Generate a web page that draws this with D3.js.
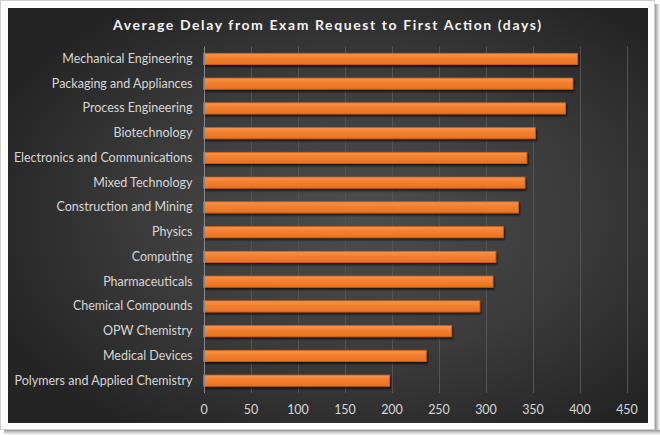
<!DOCTYPE html>
<html>
<head>
<meta charset="utf-8">
<script src="https://cdn.jsdelivr.net/npm/d3@7/dist/d3.min.js"></script>
<style>
html,body{margin:0;padding:0;background:#fff;}
svg{display:block;}
</style>
</head>
<body>
<svg id="chart" width="660" height="435"></svg>
<script>
const title = "Average Delay from Exam Request to First Action (days)";
const categories = [
  "Mechanical Engineering","Packaging and Appliances","Process Engineering","Biotechnology",
  "Electronics and Communications","Mixed Technology","Construction and Mining","Physics",
  "Computing","Pharmaceuticals","Chemical Compounds","OPW Chemistry","Medical Devices",
  "Polymers and Applied Chemistry"
];
const values = [398, 393, 385, 353, 344, 342, 335, 319, 311, 308, 294, 264, 237, 198];
const xTicks = [0, 50, 100, 150, 200, 250, 300, 350, 400, 450];

const svg = d3.select("#chart");
const defs = svg.append("defs");

const sh = defs.append("linearGradient").attr("id","shR").attr("x1","0").attr("x2","1");
sh.append("stop").attr("offset","0").attr("stop-color","#9a9a9a");
sh.append("stop").attr("offset","1").attr("stop-color","#ffffff");
const shB = defs.append("linearGradient").attr("id","shB").attr("x1","0").attr("x2","0").attr("y1","0").attr("y2","1");
shB.append("stop").attr("offset","0").attr("stop-color","#9a9a9a");
shB.append("stop").attr("offset","1").attr("stop-color","#ffffff");

const bg = defs.append("radialGradient").attr("id","bg")
  .attr("cx","0.55").attr("cy","0.5").attr("r","0.62");
bg.append("stop").attr("offset","0").attr("stop-color","#4d4d4d");
bg.append("stop").attr("offset","0.55").attr("stop-color","#3b3b3b");
bg.append("stop").attr("offset","1").attr("stop-color","#242424");

const barG = defs.append("linearGradient").attr("id","barG").attr("x1","0").attr("x2","0").attr("y1","0").attr("y2","1");
barG.append("stop").attr("offset","0").attr("stop-color","#f9924a");
barG.append("stop").attr("offset","0.45").attr("stop-color","#f37f2e");
barG.append("stop").attr("offset","1").attr("stop-color","#e8721f");

const flt = defs.append("filter").attr("id","ds").attr("x","-5%").attr("y","-50%").attr("width","110%").attr("height","220%");
flt.append("feGaussianBlur").attr("in","SourceAlpha").attr("stdDeviation","1.2").attr("result","b");
flt.append("feOffset").attr("in","b").attr("dx","1").attr("dy","1.5").attr("result","o");
flt.append("feComponentTransfer").attr("in","o").attr("result","o2")
  .append("feFuncA").attr("type","linear").attr("slope","0.7");
const mg = flt.append("feMerge");
mg.append("feMergeNode").attr("in","o2");
mg.append("feMergeNode").attr("in","SourceGraphic");

svg.append("rect").attr("x",655).attr("y",4).attr("width",5).attr("height",431).attr("fill","url(#shR)");
svg.append("rect").attr("x",4).attr("y",430).attr("width",656).attr("height",5).attr("fill","url(#shB)");
svg.append("rect").attr("x",0.5).attr("y",0.5).attr("width",654).attr("height",429)
  .attr("fill","#fff").attr("stroke","#cfcfcf");
svg.append("rect").attr("x",8).attr("y",8).attr("width",640).attr("height",415).attr("fill","url(#bg)");

const margin = {left:203.5, right:626.5, top:46.5, bottom:393};
const x = d3.scaleLinear().domain([0,450]).range([margin.left, margin.right]);
const y = d3.scaleBand().domain(categories).range([margin.top, margin.bottom]).paddingInner(0.55).paddingOuter(0.275);

svg.append("g").selectAll("line").data(xTicks.slice(1)).join("line")
  .attr("x1",d=>Math.round(x(d))+0.5).attr("x2",d=>Math.round(x(d))+0.5)
  .attr("y1",margin.top).attr("y2",margin.bottom)
  .attr("stroke","#545454").attr("stroke-width",1);

svg.append("g").selectAll("rect").data(values).join("rect")
  .attr("x",x(0)).attr("y",(d,i)=>y(categories[i]))
  .attr("width",d=>x(d)-x(0)).attr("height",y.bandwidth())
  .attr("fill","url(#barG)").attr("stroke","#c9631c").attr("stroke-width",0.8)
  .attr("filter","url(#ds)");

svg.append("line").attr("x1",Math.round(x(0))+0.5).attr("x2",Math.round(x(0))+0.5)
  .attr("y1",margin.top).attr("y2",margin.bottom).attr("stroke","#8a8a8a");

const font = "Lato, 'Open Sans', sans-serif";
const yAxis = d3.axisLeft(y).tickSize(0).tickPadding(11);
const ya = svg.append("g").attr("transform",`translate(${x(0)},0)`).call(yAxis);
ya.select(".domain").remove();
ya.selectAll("text").attr("fill","#d6d6d6").style("font-family",font).style("font-size","12.5px");

const xAxis = d3.axisBottom(x).tickValues(xTicks).tickSize(0).tickPadding(12);
const xa = svg.append("g").attr("transform",`translate(0,${margin.bottom})`).call(xAxis);
xa.select(".domain").remove();
xa.selectAll("text").attr("fill","#d6d6d6").style("font-family",font).style("font-size","12.5px");

svg.append("text").attr("x",327).attr("y",30).attr("text-anchor","middle")
  .attr("fill","#f2f2f2").style("font-family",font).style("font-size","14px").style("font-weight","bold")
  .attr("textLength",428).attr("lengthAdjust","spacing")
  .text(title);
</script>
</body>
</html>
